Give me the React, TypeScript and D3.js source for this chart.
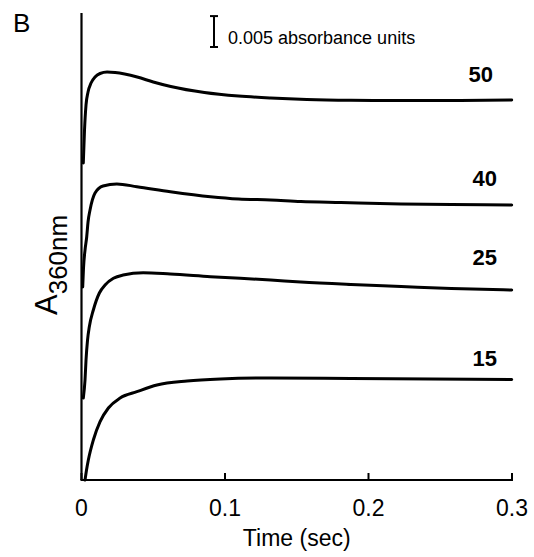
import React from "react";
import * as d3 from "d3";

// Time (sec) and absorbance (offset traces)
const t50 = [0.00126, 0.0021, 0.00315, 0.00455, 0.00664, 0.00944, 0.01294, 0.01783, 0.02343, 0.03881, 0.05, 0.0622, 0.08566, 0.10944, 0.13182, 0.157, 0.18776, 0.22273, 0.25769, 0.2998];
const a50 = [0.05125, 0.05658, 0.06063, 0.06273, 0.06418, 0.06515, 0.06572, 0.06596, 0.06588, 0.06515, 0.06435, 0.06362, 0.06265, 0.06208, 0.06176, 0.06152, 0.06139, 0.06135, 0.06135, 0.06143];

const t40 = [0.00084, 0.0014, 0.00245, 0.00364, 0.00455, 0.00594, 0.00944, 0.01503, 0.02462, 0.0386, 0.0619, 0.08986, 0.10944, 0.13182, 0.1528, 0.18077, 0.22273, 0.25769, 0.2998];
const a40 = [0.0312, 0.03427, 0.03718, 0.03933, 0.04171, 0.04365, 0.0464, 0.04753, 0.04785, 0.04742, 0.04661, 0.0458, 0.04543, 0.04527, 0.04503, 0.04486, 0.04462, 0.04454, 0.04446];

const t25 = [0.00126, 0.00245, 0.00315, 0.0042, 0.00545, 0.00825, 0.01245, 0.01643, 0.02224, 0.02902, 0.043, 0.06189, 0.08986, 0.13182, 0.1528, 0.18776, 0.22273, 0.25769, 0.2998];
const a25 = [0.01326, 0.01617, 0.0194, 0.02263, 0.02478, 0.02748, 0.03023, 0.03153, 0.03261, 0.03314, 0.03351, 0.0333, 0.03287, 0.03233, 0.03201, 0.03161, 0.03128, 0.03096, 0.03072];

const t15 = [0.00245, 0.0035, 0.00476, 0.00825, 0.01294, 0.01874, 0.02692, 0.0386, 0.05259, 0.07357, 0.09685, 0.13182, 0.18776, 0.2437, 0.2998];
const a15 = [0, 0.00162, 0.00323, 0.00647, 0.00943, 0.01164, 0.01326, 0.01428, 0.01536, 0.01601, 0.01633, 0.01649, 0.01641, 0.01633, 0.01625];

const traceNames = ["50", "40", "25", "15"];
const traceLabelY = [0.0656, 0.0489, 0.03605, 0.0197];
const xTicks = [0, 0.1, 0.2, 0.3];
const xTickLabels = ["0", "0.1", "0.2", "0.3"];
const scaleBar = [0.07, 0.075];

export default function App() {
  const W = 534, H = 557;
  const x = d3.scaleLinear().domain([0, 0.3]).range([81.5, 512]);
  const y = d3.scaleLinear().domain([0, 0.0755]).range([480, 13]);
  const line = d3
    .line<[number, number]>()
    .x((d) => x(d[0]))
    .y((d) => y(d[1]))
    .curve(d3.curveMonotoneX);
  const traces = [
    [t50, a50],
    [t40, a40],
    [t25, a25],
    [t15, a15],
  ].map(([ts, as]) => ts.map((t, i) => [t, as[i]] as [number, number]));
  const font = "'Liberation Sans', Arial, sans-serif";
  const labelRight = [493, 497, 497, 497];
  const sbX = 214;

  return (
    <svg
      width={W}
      height={H}
      style={{ position: "absolute", left: 0, top: 0, background: "#fff" }}
      fontFamily={font}
    >
      <text x={13} y={32} fontSize={26} fill="#000">B</text>
      {/* axes */}
      <line x1={x(0)} x2={x(0)} y1={y(0.0755)} y2={y(0)} stroke="#000" strokeWidth={2.2} />
      <line x1={x(0) - 1} x2={x(0.3) + 1} y1={y(0)} y2={y(0)} stroke="#000" strokeWidth={2.2} />
      {xTicks.map((t, i) => (
        <g key={i}>
          <line x1={x(t)} x2={x(t)} y1={y(0)} y2={y(0) - 7} stroke="#000" strokeWidth={2} />
          <text x={x(t)} y={516} fontSize={23} textAnchor="middle" fill="#000">
            {xTickLabels[i]}
          </text>
        </g>
      ))}
      <text x={(x(0) + x(0.3)) / 2} y={546} fontSize={23} textAnchor="middle" fill="#000">
        Time (sec)
      </text>
      <text transform="translate(57,315) rotate(-90)" fill="#000">
        <tspan fontSize={31}>A</tspan>
        <tspan fontSize={26} dy={10}>360nm</tspan>
      </text>
      {/* scale bar */}
      <line x1={sbX} x2={sbX} y1={y(scaleBar[1])} y2={y(scaleBar[0])} stroke="#000" strokeWidth={2} />
      <line x1={sbX - 4} x2={sbX + 4} y1={y(scaleBar[1])} y2={y(scaleBar[1])} stroke="#000" strokeWidth={2} />
      <line x1={sbX - 4} x2={sbX + 4} y1={y(scaleBar[0])} y2={y(scaleBar[0])} stroke="#000" strokeWidth={2} />
      <text x={228} y={44} fontSize={18} fill="#000">0.005 absorbance units</text>
      {/* traces */}
      {traces.map((d, i) => (
        <path key={i} d={line(d) || ""} fill="none" stroke="#000" strokeWidth={3} strokeLinejoin="round" strokeLinecap="round" />
      ))}
      {traceNames.map((n, i) => (
        <text key={n} x={labelRight[i]} y={y(traceLabelY[i]) + 8} fontSize={22} fontWeight="bold" textAnchor="end" fill="#000">
          {n}
        </text>
      ))}
    </svg>
  );
}
